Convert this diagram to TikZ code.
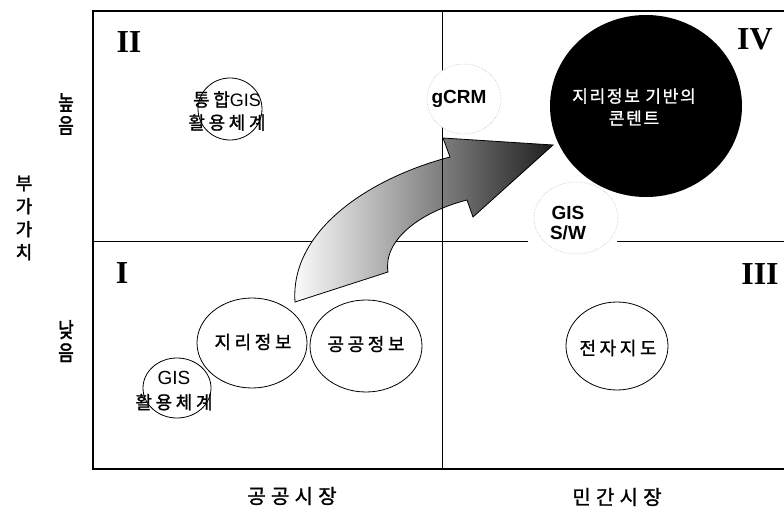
\documentclass[tikz,border=0pt]{standalone}
\usepackage{fontspec}
\usetikzlibrary{shapes.geometric}
\setmainfont{Liberation Sans}
\newfontfamily\kr{Noto Sans CJK KR}[LetterSpace=20,FakeBold=1.2]
\newfontfamily\krw{Noto Sans CJK KR}[LetterSpace=10,FakeBold=1.2]
\newfontfamily\krax{Noto Sans CJK KR}[LetterSpace=26,FakeBold=1.2]
\newfontfamily\krb{Noto Sans CJK KR}[FakeBold=2]
\newfontfamily\rom{Liberation Serif}
\begin{document}
\begin{tikzpicture}[x=1pt,y=-1pt,
  frameline/.style={line width=2.4pt, line cap=rect},
  divider/.style={line width=0.8pt},
  bub/.style={ellipse, draw, line width=0.8pt, fill=white, inner sep=0pt},
  ghost/.style={ellipse, draw=gray!45, densely dotted, line width=0.6pt, fill=white, inner sep=0pt},
  numeral/.style={font=\rom\bfseries\fontsize{32}{32}\selectfont, inner sep=0pt},
  krtext/.style={align=center, inner sep=0pt, font=\kr\fontsize{18}{23}\selectfont},
  lattext/.style={align=center, inner sep=0pt, font=\rmfamily\bfseries\fontsize{19}{19}\selectfont},
  axislbl/.style={inner sep=0pt, font=\krax\fontsize{20}{20}\selectfont},
  vlbl/.style={align=center, inner sep=0pt, font=\krb\fontsize{17}{23}\selectfont},
]
\useasboundingbox (0,0) rectangle (784,508);
\fill[white] (0,0) rectangle (784,508);

% dividers
\draw[divider] (93,241) -- (528,241);
\draw[divider] (617,241) -- (784,241);

% curved gradient arrow
\draw[left color=white, middle color=gray!45, right color=black!88, line width=0.8pt, line join=miter]
  (295,302) -- (388,272) .. controls (383,240) and (420,212) .. (467,200)
  -- (473,217) -- (553,145) -- (443,138) -- (450,157)
  .. controls (370,178) and (290,230) .. (295,302) -- cycle;

\draw[divider] (442,11) -- (442,469);

% frame
\draw[frameline] (784,11) -- (93,11) -- (93,469) -- (784,469);

% bubbles
\node[ghost, minimum width=74pt, minimum height=70pt] (gcrm) at (464,99) {};
\node[ghost, minimum width=84pt, minimum height=72pt] (gissw) at (576,218) {};
\node[ellipse, fill=black, inner sep=0pt, minimum width=192pt, minimum height=182pt] (content) at (646,106) {};
\node[bub, minimum width=64pt, minimum height=62pt] (tonghap) at (230,109) {};
\node[bub, minimum width=110pt, minimum height=90pt] (jiri) at (252,343) {};
\node[bub, minimum width=112pt, minimum height=92pt] (gonggong) at (366,346) {};
\node[bub, minimum width=68pt, minimum height=60pt] (gishwal) at (177,388) {};
\node[bub, minimum width=102pt, minimum height=88pt] (jeonja) at (617,346) {};

% bubble texts
\node[krtext] (tonghapT) at (227,111) {통합{\rmfamily\fontsize{18}{18}\selectfont GIS}\\활용체계};
\node[krtext] (gishwalT) at (174,391) {{\rmfamily\fontsize{19}{19}\selectfont GIS}\\[1pt]활용체계};
\node[krtext] (jiriT) at (253,342) {지리정보};
\node[krtext] (gonggongT) at (366,344) {공공정보};
\node[krtext] (jeonjaT) at (618,348) {전자지도};
\node[lattext] (gcrmT) at (459,99) {gCRM};
\node[lattext, font=\rmfamily\bfseries\fontsize{19}{20}\selectfont] (gisswT) at (568,223) {GIS\\S/W};
\node[align=center, inner sep=0pt, text=white, font=\krw\fontsize{17}{22}\selectfont] (contentT) at (634,107) {지리정보 기반의\\콘텐트};

% quadrant numerals
\node[numeral] (q2) at (129,42) {II};
\node[numeral] (q4) at (755,39) {IV};
\node[numeral] (q1) at (122,273) {I};
\node[numeral] (q3) at (760,274) {III};

% axis labels
\node[axislbl] (pub) at (292,496) {공공시장};
\node[axislbl] (priv) at (617,497) {민간시장};
\node[align=center, inner sep=0pt, font=\krb\fontsize{18}{23}\selectfont] (value) at (24,218) {부\\가\\가\\치};
\node[vlbl] (high) at (66,114) {\scalebox{1}[1.25]{높}\\\scalebox{1}[1.25]{음}};
\node[vlbl] (low) at (66,341) {\scalebox{1}[1.25]{낮}\\\scalebox{1}[1.25]{음}};
\end{tikzpicture}
\end{document}
